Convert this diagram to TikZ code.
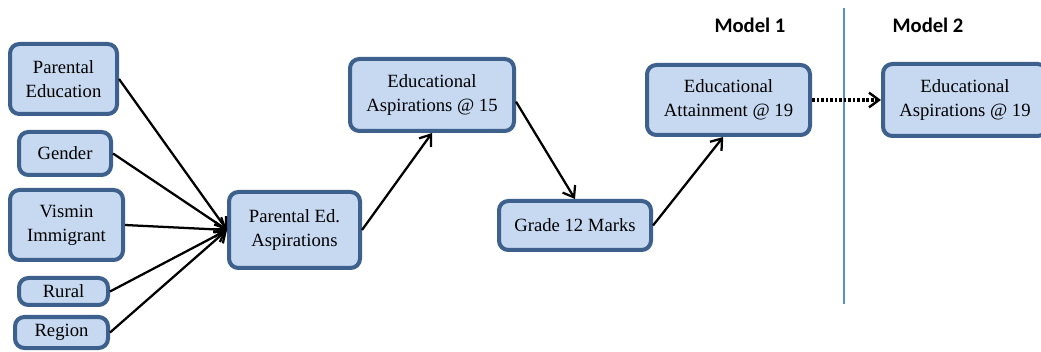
\documentclass[tikz,border=0pt]{standalone}
\usepackage{fontspec}
\setmainfont{Liberation Serif}
\newfontfamily\headfont{Carlito}
\usetikzlibrary{arrows.meta}
\definecolor{boxfill}{RGB}{198,217,241}
\definecolor{boxline}{RGB}{61,96,140}
\definecolor{divider}{RGB}{91,139,208}
\tikzset{
  box/.style 2 args={draw=boxline, fill=boxfill, line width=3pt,
    rounded corners=7pt, align=center, inner sep=2pt,
    minimum width=#1*0.75pt, minimum height=#2*0.75pt},
  boxtext/.style={font=\rmfamily\fontsize{14pt}{18pt}\selectfont},
  link/.style={line width=1.7pt, -{Straight Barb[length=7.5pt,width=11pt,line width=1.7pt]}},
  weaklink/.style={line width=2.4pt, dash pattern=on 2pt off 1.4pt,
    -{Straight Barb[length=7.5pt,width=11pt,line width=1.8pt]}},
  modelhead/.style={font=\headfont\bfseries\fontsize{15.5pt}{18pt}\selectfont}
}
\begin{document}
\begin{tikzpicture}[x=0.75pt, y=-0.75pt]
\useasboundingbox (0,0) rectangle (1041,352);
\clip (0,0) rectangle (1041,352);

% background predictors
\node[box={107}{70},boxtext] (pe)  at (63.5,79)   {Parental\\Education};
\node[box={92}{43},boxtext]  (gen) at (65,153.5)  {Gender};
\node[box={113}{70},boxtext] (vis) at (66.5,225)  {Vismin\\Immigrant};
\node[box={89}{27},boxtext]  (rur) at (63.5,291.5){Rural};
\node[box={93}{31},boxtext]  (reg) at (61.5,332.5){Region};

% mediating chain
\node[box={131}{76},boxtext] (pea)  at (294.5,230) {Parental Ed.\\Aspirations};
\node[box={164}{72},boxtext] (ea15) at (432,95)    {Educational\\Aspirations @ 15};
\node[box={152}{49},boxtext] (g12)  at (575,225.5) {Grade 12 Marks};
\node[box={163}{70},boxtext] (att)  at (728.5,100) {Educational\\Attainment @ 19};
\node[box={164}{72},boxtext] (asp19) at (965,100)  {Educational\\Aspirations @ 19};

% model headings and divider
\node[modelhead] (m1) at (750,25) {Model 1};
\node[modelhead] (m2) at (928,25) {Model 2};
\coordinate (divtop) at (844,8);
\coordinate (divbot) at (844,304);
\draw[divider, line width=1.2pt] (divtop) -- (divbot);

% paths
\foreach \src in {pe,gen,vis,rur,reg}
  \draw[link] (\src.east) -- (pea.west);
\draw[link] (pea.east) -- (ea15.south);
\draw[link] ([yshift=-5pt]ea15.east) -- (g12.north);
\draw[link] (g12.east) -- ([xshift=-4pt]att.south);
\draw[weaklink] (att.east) -- (asp19.west);
\end{tikzpicture}
\end{document}
